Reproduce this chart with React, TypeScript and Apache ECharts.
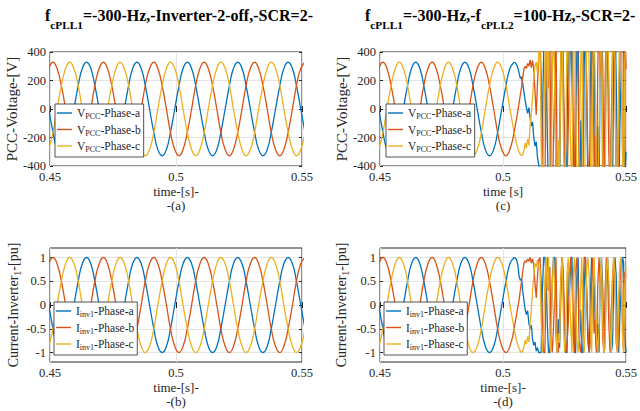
import React, { useEffect, useRef } from 'react';
import * as echarts from 'echarts';

const FONT = 'Liberation Serif';
const INK = '#262626';
const COLORS = ['#0072BD', '#D95319', '#EDB120'];

const iTicks = [-1, -0.5, 0, 0.5, 1];

// steady-state time grid (s)
const tSteady = [
  0.4495, 0.4512, 0.4528, 0.4545, 0.4562, 0.4578, 0.4595, 0.4612, 0.4628, 0.4645, 0.4662, 0.4678,
  0.4695, 0.4712, 0.4728, 0.4745, 0.4762, 0.4778, 0.4795, 0.4812, 0.4828, 0.4845, 0.4862, 0.4878,
  0.4895, 0.4912, 0.4928, 0.4945, 0.4962, 0.4978, 0.4995, 0.5012, 0.5028, 0.5045, 0.5062, 0.5078,
  0.5095, 0.5112, 0.5128, 0.5145, 0.5162, 0.5178, 0.5195, 0.5212, 0.5228, 0.5245, 0.5262, 0.5278,
  0.5295, 0.5312, 0.5328, 0.5345, 0.5362, 0.5378, 0.5395, 0.5412, 0.5428, 0.5445, 0.5462, 0.5478,
  0.5495, 0.5512,
];

// PCC voltage (V), steady
const vSteadyA = [
  0, -164, -284, -328, -284, -164, 0, 164, 284, 328, 284, 164,
  0, -164, -284, -328, -284, -164, 0, 164, 284, 328, 284, 164,
  0, -164, -284, -328, -284, -164, 0, 164, 284, 328, 284, 164,
  0, -164, -284, -328, -284, -164, 0, 164, 284, 328, 284, 164,
  0, -164, -284, -328, -284, -164, 0, 164, 284, 328, 284, 164,
  0, -164,
];
const vSteadyB = [
  284, 328, 284, 164, 0, -164, -284, -328, -284, -164, 0, 164,
  284, 328, 284, 164, 0, -164, -284, -328, -284, -164, 0, 164,
  284, 328, 284, 164, 0, -164, -284, -328, -284, -164, 0, 164,
  284, 328, 284, 164, 0, -164, -284, -328, -284, -164, 0, 164,
  284, 328, 284, 164, 0, -164, -284, -328, -284, -164, 0, 164,
  284, 328,
];
const vSteadyC = [
  -284, -164, 0, 164, 284, 328, 284, 164, 0, -164, -284, -328,
  -284, -164, 0, 164, 284, 328, 284, 164, 0, -164, -284, -328,
  -284, -164, 0, 164, 284, 328, 284, 164, 0, -164, -284, -328,
  -284, -164, 0, 164, 284, 328, 284, 164, 0, -164, -284, -328,
  -284, -164, 0, 164, 284, 328, 284, 164, 0, -164, -284, -328,
  -284, -164,
];

// inverter-1 current (pu), steady
const iSteadyA = [
  0, -0.5, -0.87, -1, -0.87, -0.5, 0, 0.5, 0.87, 1, 0.87, 0.5,
  0, -0.5, -0.87, -1, -0.87, -0.5, 0, 0.5, 0.87, 1, 0.87, 0.5,
  0, -0.5, -0.87, -1, -0.87, -0.5, 0, 0.5, 0.87, 1, 0.87, 0.5,
  0, -0.5, -0.87, -1, -0.87, -0.5, 0, 0.5, 0.87, 1, 0.87, 0.5,
  0, -0.5, -0.87, -1, -0.87, -0.5, 0, 0.5, 0.87, 1, 0.87, 0.5,
  0, -0.5,
];
const iSteadyB = [
  0.87, 1, 0.87, 0.5, 0, -0.5, -0.87, -1, -0.87, -0.5, 0, 0.5,
  0.87, 1, 0.87, 0.5, 0, -0.5, -0.87, -1, -0.87, -0.5, 0, 0.5,
  0.87, 1, 0.87, 0.5, 0, -0.5, -0.87, -1, -0.87, -0.5, 0, 0.5,
  0.87, 1, 0.87, 0.5, 0, -0.5, -0.87, -1, -0.87, -0.5, 0, 0.5,
  0.87, 1, 0.87, 0.5, 0, -0.5, -0.87, -1, -0.87, -0.5, 0, 0.5,
  0.87, 1,
];
const iSteadyC = [
  -0.87, -0.5, 0, 0.5, 0.87, 1, 0.87, 0.5, 0, -0.5, -0.87, -1,
  -0.87, -0.5, 0, 0.5, 0.87, 1, 0.87, 0.5, 0, -0.5, -0.87, -1,
  -0.87, -0.5, 0, 0.5, 0.87, 1, 0.87, 0.5, 0, -0.5, -0.87, -1,
  -0.87, -0.5, 0, 0.5, 0.87, 1, 0.87, 0.5, 0, -0.5, -0.87, -1,
  -0.87, -0.5, 0, 0.5, 0.87, 1, 0.87, 0.5, 0, -0.5, -0.87, -1,
  -0.87, -0.5,
];

// transient / unstable time grid (s), from 0.5045
const tTrans = [
  0.5045, 0.5050, 0.5055, 0.5060, 0.5065, 0.5070, 0.5075, 0.5080, 0.5085, 0.5090,
  0.5095, 0.5100, 0.5105, 0.5110, 0.5115, 0.5120, 0.5125, 0.5130, 0.5135, 0.5140,
  0.5145, 0.5150, 0.5155, 0.5160, 0.5165, 0.5170, 0.5175, 0.5180, 0.5185, 0.5190,
  0.5195, 0.5200, 0.5205, 0.5210, 0.5215, 0.5220, 0.5225, 0.5230, 0.5235, 0.5240,
  0.5245, 0.5250, 0.5255, 0.5260, 0.5265, 0.5270, 0.5275, 0.5280, 0.5285, 0.5290,
  0.5295, 0.5300, 0.5305, 0.5310, 0.5315, 0.5320, 0.5325, 0.5330, 0.5335, 0.5340,
  0.5345, 0.5350, 0.5355, 0.5360, 0.5365, 0.5370, 0.5375, 0.5380, 0.5385, 0.5390,
  0.5395, 0.5400, 0.5405, 0.5410, 0.5415, 0.5420, 0.5425, 0.5430, 0.5435, 0.5440,
  0.5445, 0.5450, 0.5455, 0.5460, 0.5465, 0.5470, 0.5475, 0.5480, 0.5485, 0.5490,
  0.5495, 0.5500,
];

// panel (c) voltage, transition
const vTransA = [328, 325, 312, 290, 255, 215, 225, 180, 120, 60, 10, -30, 10, -60, -120, -90, -200, -260, -230, -340, -390];
const vTransB = [-164, -115, -68, -15, 40, 95, 150, 220, 280, 300, 285, 320, 300, 345, 290, 340, 280, 120, -40, 180, 350];
const vTransC = [-164, -205, -244, -275, -300, -318, -326, -322, -290, -240, -275, -210, -255, -120, -30, 80, 220, 300, 330, 250, 380];
// panel (c) voltage, unstable
const vChaosA = [
  -430, -520, -100, 380, 700, 420, -200, -650, -520, -180,
  380, 690, 250, -450, -700, -300, -580, 260, 680, 120,
  -340, -690, -210, 500, 160, 590, 640, -150, -700, -320,
  420, 700, -520, -80, -600, -640, 320, 670, 110, -560,
  -700, 180, 650, 300, 560, -400, -680, -120, -700, 450,
  680, 300, -610, -290, 560, 710, 40, -250, -680, -560,
  380, 650, 200, -480, -700, -100, 220, 690, 620, -520,
  -300,
];
const vChaosB = [
  520, 240, -300, -680, -600, 280, 700, 150, 580, -420,
  -690, -220, 150, 660, -500, -700, -140, 400, 720, 300,
  -250, -680, -560, -140, 350, 690, 210, -380, -650, 520,
  680, 180, -600, -720, -280, 260, 650, 700, 120, -350,
  -700, -580, 480, 690, -420, -180, -620, 300, 700, 240,
  580, -520, -690, 200, 660, 350, -300, -640, -100, 450,
  680, 160, -580, -700, -220, 380, 650, -200, -690, 540,
  280,
];
const vChaosC = [
  560, -250, -650, -200, 320, 680, 120, 700, -480, -660,
  280, 700, 160, -380, -690, -220, -540, 450, 650, -150,
  -700, -260, 520, 690, 140, -300, -680, 400, 720, 180,
  -560, -700, -240, 240, 660, -450, -690, -100, 580, 700,
  250, -350, -680, 300, 690, 120, -520, -700, -180, 420,
  700, -250, -650, -620, 500, 680, 200, -400, -700, 350,
  660, 320, -520, -680, 180, 640, 690, -280, -700, 320,
  600,
];

// panel (d) current, transition
const iTransA = [1.0, 0.99, 0.95, 0.85, 0.62, 0.52, 0.55, 0.3, 0.1, -0.1, -0.2, -0.12, -0.38, -0.5, -0.42, -0.72, -0.85, -0.78, -0.97, -0.9, -1.0];
const iTransB = [-0.5, -0.35, -0.21, -0.05, 0.1, 0.3, 0.48, 0.7, 0.88, 0.93, 0.9, 0.97, 0.92, 1.0, 0.88, 0.97, 0.85, 0.45, 0.15, 0.6, 0.95];
const iTransC = [-0.5, -0.62, -0.74, -0.84, -0.91, -0.97, -1.0, -0.98, -0.88, -0.74, -0.82, -0.66, -0.78, -0.4, -0.1, 0.3, 0.62, 0.88, 0.8, 0.95, 0.78];
// panel (d) current, unstable
const iChaosA = [
  -1, -1, 0.3, 1, 1, 0.6, -0.4, -1, -1, -0.5,
  0.5, 1, 1, -0.6, -1, -0.3, -0.9, 0.2, 1, 0.4,
  -0.5, -1, -1, 0.7, 0.2, 1, 1, -0.2, -1, -1,
  0.6, 1, -0.7, -0.1, -1, -1, 0.4, 1, 0.3, -0.8,
  -1, 0.2, 1, 0.5, 0.8, -0.5, -1, -0.4, -1, 0.6,
  1, 0.4, -1, -0.6, 0.8, 1, 0.2, -0.3, -1, -0.8,
  0.5, 1, 0.6, -0.7, -1, -0.2, 0.3, 1, 0.9, -0.7,
  -1,
];
const iChaosB = [
  1, 0.5, -0.4, -1, -1, 0.4, 1, 0.3, 0.8, -0.6,
  -1, -0.5, 0.2, 1, -0.7, -1, -0.3, 0.6, 1, 0.7,
  -0.3, -1, -0.8, -0.4, 0.5, 1, 0.6, -0.5, -1, 0.7,
  1, 0.4, -0.8, -1, -0.7, 0.3, 1, 1, 0.2, -0.5,
  -1, -0.8, 0.6, 1, -0.6, -0.3, -1, 0.4, 1, 0.5,
  0.8, -0.7, -1, 0.3, 1, 0.7, -0.4, -1, -0.2, 0.6,
  1, 0.4, -0.8, -1, -0.5, 0.5, 1, -0.3, -1, 0.7,
  0.6,
];
const iChaosC = [
  0.8, -0.3, -1, -0.5, 0.5, 1, 0.3, 1, -0.6, -1,
  0.4, 1, 0.4, -0.5, -1, -0.6, -0.8, 0.6, 1, -0.2,
  -1, -0.6, 0.7, 1, 0.3, -0.4, -1, 0.5, 1, 0.4,
  -0.7, -1, -0.6, 0.3, 1, -0.6, -1, -0.3, 0.8, 1,
  0.6, -0.5, -1, 0.4, 1, 0.2, -0.7, -1, -0.5, 0.6,
  1, -0.3, -1, -0.9, 0.7, 1, 0.5, -0.5, -1, 0.5,
  1, 0.6, -0.7, -1, 0.2, 0.9, 1, -0.6, -1, 0.4,
  0.8,
];

const zip = (ts: number[], vs: number[]) => vs.map((v, i) => [ts[i], v]);

const GRIDS = [
  { left: 50, top: 52, width: 252, height: 114 },
  { left: 50, top: 248, width: 252, height: 114 },
  { left: 380, top: 52, width: 250, height: 114 },
  { left: 380, top: 248, width: 250, height: 114 },
];

const tickStyle = { inside: true, length: 3, lineStyle: { color: INK, width: 1 } };
const splitStyle = { show: true, lineStyle: { color: '#e4e4e4', width: 1 } };
const tickRich = { t: { color: INK, fontFamily: FONT, fontSize: 12.5 } };
const fmtTick = (v: number) => `{t|${String(+(+v).toFixed(2))}}`;

function xBottom(gi: number, name: string) {
  return {
    type: 'value', gridIndex: gi, position: 'bottom', min: 0.45, max: 0.55, interval: 0.05,
    axisLine: { show: false }, axisTick: tickStyle,
    axisLabel: { color: INK, fontFamily: FONT, fontSize: 12.5, margin: 4, formatter: fmtTick, rich: tickRich },
    splitLine: splitStyle,
    name, nameLocation: 'middle', nameGap: 18,
    nameTextStyle: { color: INK, fontFamily: FONT, fontSize: 13, lineHeight: 14.5 },
  };
}
function xTop(gi: number) {
  return {
    type: 'value', gridIndex: gi, position: 'top', min: 0.45, max: 0.55, interval: 0.05,
    axisLine: { show: false }, axisTick: tickStyle, axisLabel: { show: false }, splitLine: { show: false },
  };
}
function yVolt(gi: number, gap: number) {
  return {
    type: 'value', gridIndex: gi, position: 'left', min: -400, max: 400, interval: 200,
    axisLine: { show: false }, axisTick: tickStyle,
    axisLabel: { color: INK, fontFamily: FONT, fontSize: 12.5, margin: 4, formatter: fmtTick, rich: tickRich },
    splitLine: splitStyle,
    name: 'PCC-Voltage-[V]', nameLocation: 'middle', nameRotate: 90, nameGap: gap,
    nameTextStyle: { color: INK, fontFamily: FONT, fontSize: 15 },
  };
}
function yCurr(gi: number, gap: number) {
  return {
    type: 'value', gridIndex: gi, position: 'left', min: -1.2, max: 1.2,
    axisLine: { show: false },
    axisTick: { ...tickStyle, customValues: iTicks },
    axisLabel: { color: INK, fontFamily: FONT, fontSize: 12.5, margin: 4, customValues: iTicks, formatter: fmtTick, rich: tickRich },
    splitLine: splitStyle,
    name: '{m|Current-Inverter}{s|1}{m|-[pu]}', nameLocation: 'middle', nameRotate: 90, nameGap: gap,
    nameTextStyle: {
      color: INK, fontFamily: FONT, fontSize: 14,
      rich: {
        m: { color: INK, fontFamily: FONT, fontSize: 14 },
        s: { color: INK, fontFamily: FONT, fontSize: 10, padding: [7, 0, 0, 0] },
      },
    },
  };
}
function yRight(gi: number, volt: boolean) {
  return volt
    ? { type: 'value', gridIndex: gi, position: 'right', min: -400, max: 400, interval: 200,
        axisLine: { show: false }, axisTick: tickStyle, axisLabel: { show: false }, splitLine: { show: false } }
    : { type: 'value', gridIndex: gi, position: 'right', min: -1.2, max: 1.2,
        axisLine: { show: false }, axisTick: { ...tickStyle, customValues: iTicks },
        axisLabel: { show: false, customValues: iTicks }, splitLine: { show: false } };
}

const LEGEND_LABEL: Record<string, string> = {
  Va: '{m|V}{s|PCC}{m|-Phase-a}', Vb: '{m|V}{s|PCC}{m|-Phase-b}', Vc: '{m|V}{s|PCC}{m|-Phase-c}',
  Ia: '{m|I}{s|inv1}{m|-Phase-a}', Ib: '{m|I}{s|inv1}{m|-Phase-b}', Ic: '{m|I}{s|inv1}{m|-Phase-c}',
};

function legend(names: string[], left: number, top: number) {
  return {
    orient: 'vertical', left, top, data: names, selectedMode: false,
    icon: 'rect',
    backgroundColor: '#fff', borderColor: INK, borderWidth: 0.8, borderRadius: 0,
    padding: [3, 3, 3, 2], itemGap: 2.5, itemWidth: 15, itemHeight: 1.4,
    formatter: (n: string) => LEGEND_LABEL[n],
    textStyle: {
      color: INK, fontFamily: FONT, fontSize: 11,
      rich: {
        m: { color: INK, fontFamily: FONT, fontSize: 11.5 },
        s: { color: INK, fontFamily: FONT, fontSize: 8, padding: [8, 0, 0, 0] },
      },
    },
  };
}

function line(name: string, xi: number, data: number[][], color: string, smooth: boolean) {
  return {
    type: 'line', name, xAxisIndex: xi, yAxisIndex: xi, data, smooth, symbol: 'none',
    lineStyle: { color, width: 1.3 }, itemStyle: { color }, clip: true, silent: true,
  };
}

const titleRich = {
  f: { fill: '#000', fontFamily: FONT, fontSize: 16, fontWeight: 'bold' },
  s: { fill: '#000', fontFamily: FONT, fontSize: 11.3, fontWeight: 'bold', padding: [20, 0, 0, 0] },
};

export default function App() {
  const ref = useRef<HTMLDivElement>(null);
  useEffect(() => {
    if (!ref.current) return;
    const chart = echarts.init(ref.current, undefined, { renderer: 'svg' });
    const vS = [vSteadyA, vSteadyB, vSteadyC];
    const iS = [iSteadyA, iSteadyB, iSteadyC];
    const vT = [vTransA.concat(vChaosA), vTransB.concat(vChaosB), vTransC.concat(vChaosC)];
    const iT = [iTransA.concat(iChaosA), iTransB.concat(iChaosB), iTransC.concat(iChaosC)];
    const vN = ['Va', 'Vb', 'Vc'];
    const iN = ['Ia', 'Ib', 'Ic'];
    const series: any[] = [];
    for (let p = 0; p < 3; p++) series.push(line(vN[p], 0, zip(tSteady, vS[p]), COLORS[p], true));
    for (let p = 0; p < 3; p++) series.push(line(iN[p], 1, zip(tSteady, iS[p]), COLORS[p], true));
    for (let p = 0; p < 3; p++) {
      series.push(line(vN[p], 2, zip(tSteady.slice(0, 34), vS[p].slice(0, 34)), COLORS[p], true));
    }
    for (let p = 0; p < 3; p++) series.push(line(vN[p], 2, zip(tTrans, vT[p]), COLORS[p], false));
    for (let p = 0; p < 3; p++) {
      series.push(line(iN[p], 3, zip(tSteady.slice(0, 34), iS[p].slice(0, 34)), COLORS[p], true));
    }
    for (let p = 0; p < 3; p++) series.push(line(iN[p], 3, zip(tTrans, iT[p]), COLORS[p], false));

    chart.setOption({
      animation: false,
      backgroundColor: '#fff',
      textStyle: { fontFamily: FONT, color: INK },
      grid: GRIDS.map((g) => ({ ...g, show: true, borderColor: INK, borderWidth: 1, backgroundColor: '#fff', containLabel: false })),
      xAxis: [
        xBottom(0, 'time-[s]-\n-(a)'), xBottom(1, 'time-[s]-\n-(b)'),
        xBottom(2, 'time [s]\n(c)'), xBottom(3, 'time-[s]-\n-(d)'),
        xTop(0), xTop(1), xTop(2), xTop(3),
      ],
      yAxis: [
        yVolt(0, 26), yCurr(1, 27), yVolt(2, 30), yCurr(3, 30),
        yRight(0, true), yRight(1, false), yRight(2, true), yRight(3, false),
      ],
      legend: [
        legend(vN, 55, 104), legend(iN, 54, 302), legend(vN, 386, 104), legend(iN, 384, 302),
      ],
      graphic: [
        { type: 'text', x: 45, y: 15, silent: true,
          style: { text: '{f|f}{s|cPLL1}{f|=-300-Hz,-Inverter-2-off,-SCR=2-}', rich: titleRich, align: 'left', verticalAlign: 'middle' } },
        { type: 'text', x: 365, y: 15, silent: true,
          style: { text: '{f|f}{s|cPLL1}{f|=-300-Hz,-}{f|f}{s|cPLL2}{f|=100-Hz,-SCR=2-}', rich: titleRich, align: 'left', verticalAlign: 'middle' } },
      ],
      series,
    });
    return () => chart.dispose();
  }, []);
  return <div ref={ref} style={{ position: 'absolute', left: 0, top: 0, width: 640, height: 411 }} />;
}
